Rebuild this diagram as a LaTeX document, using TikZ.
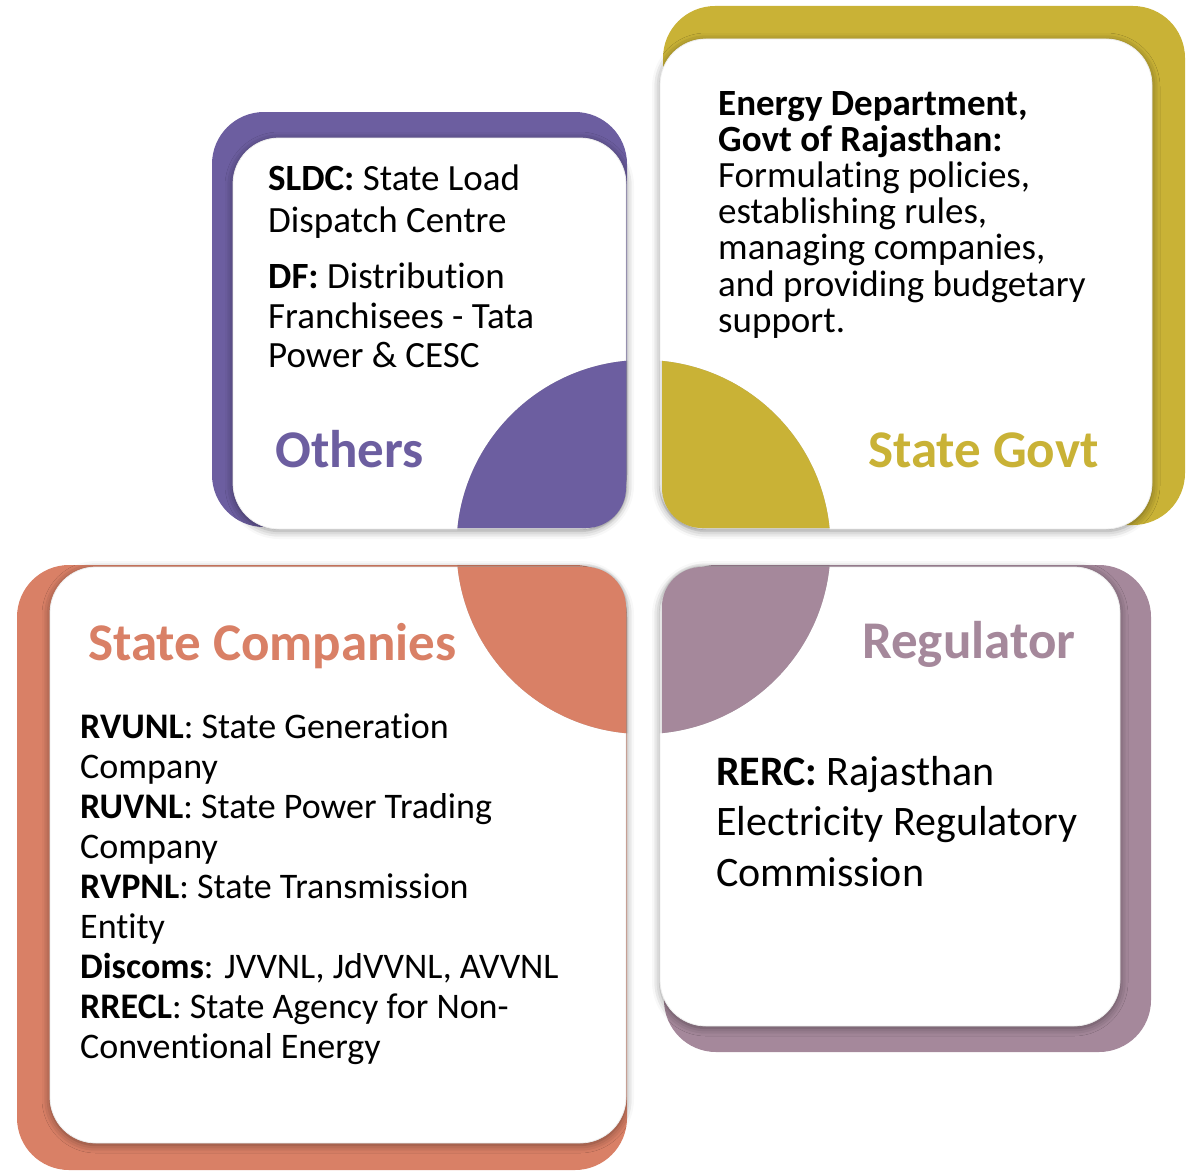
\documentclass[tikz,border=0pt]{standalone}
\usepackage{fontspec}
\setmainfont{Carlito}[Ligatures={NoCommon,NoContextual,NoRare}]
\usetikzlibrary{shadows.blur}
\definecolor{othersC}{HTML}{6C5EA0}
\definecolor{govtC}{HTML}{C9B236}
\definecolor{compC}{HTML}{D98066}
\definecolor{regC}{HTML}{A5889B}
\begin{document}
\begin{tikzpicture}[x=1pt,y=-1pt,
  backbox/.style={rounded corners=52pt},
  frontbox/.style={fill=white, draw=black!7, line width=0.8pt, rounded corners=46pt,
    blur shadow={shadow xshift=0pt, shadow yshift=-2pt, shadow blur radius=8pt, shadow opacity=45}},
  piece/.style={blur shadow={shadow xshift=0pt, shadow yshift=0pt, shadow blur radius=3pt, shadow opacity=30}},
  body/.style={anchor=base west, inner sep=0pt, font=\fontsize{37}{40}\selectfont},
  bodyS/.style={anchor=base west, inner sep=0pt, font=\fontsize{36}{40}\selectfont},
  bodyL/.style={anchor=base west, inner sep=0pt, font=\fontsize{42}{50}\selectfont},
  title/.style={anchor=base west, inner sep=0pt, font=\fontsize{53}{60}\selectfont\bfseries}]

\useasboundingbox (0,0) rectangle (1190,1172);

% coloured back plates
\fill[othersC, backbox] (212,112) rectangle (627,527);
\fill[govtC,   backbox] (663,6)   rectangle (1185,525);
\fill[compC,   backbox] (17,565)  rectangle (627,1170);
\fill[regC,    backbox] (664,565) rectangle (1151,1052);

% white front cards
\path[frontbox] (233,138) rectangle (626,529);
\path[frontbox] (660,39)  rectangle (1152,529);
\path[frontbox] (50,567)  rectangle (626,1143);
\path[frontbox] (660,567) rectangle (1120,1026);

% central disc cut into four quarters, inner corners rounded
\begin{scope}
  \clip (643.5,547) circle[radius=187pt];
  \fill[othersC, piece] (400,300) -- (626,300) -- (626,488)
      arc[start angle=0, end angle=-90, radius=40pt] -- (400,528) -- cycle;
  \fill[govtC, piece] (900,300) -- (662,300) -- (662,488)
      arc[start angle=180, end angle=270, radius=40pt] -- (900,528) -- cycle;
  \fill[compC, piece] (400,567) -- (586,567)
      arc[start angle=90, end angle=0, radius=40pt] -- (626,800) -- (400,800) -- cycle;
  \fill[regC, piece] (662,800) -- (662,607)
      arc[start angle=180, end angle=90, radius=40pt] -- (900,567) -- (900,800) -- cycle;
\end{scope}

% Others
\node[body] (sldcA) at (268,190) {\textbf{SLDC:} State Load};
\node[body] (sldcB) at (268,232) {Dispatch Centre};
\node[body] (dfA)   at (268,288) {\textbf{DF:} Distribution};
\node[body] (dfB)   at (268,328) {Franchisees - Tata};
\node[body] (dfC)   at (268,367) {Power \& CESC};
\node[title, text=othersC] (others) at (275,467) {Others};

% State Govt
\node[body] (edA) at (718,115) {\textbf{Energy Department,}};
\node[body] (edB) at (718,151) {\textbf{Govt of Rajasthan:}};
\node[body] (edC) at (718,187) {Formulating policies,};
\node[body] (edD) at (718,223) {establishing rules,};
\node[body] (edE) at (718,259) {managing companies,};
\node[body] (edF) at (718,296) {and providing budgetary};
\node[body] (edG) at (718,332) {support.};
\node[title, text=govtC] (govt) at (868,467) {State Govt};

% State Companies
\node[title, text=compC] (comp) at (88,660) {State Companies};
\node[bodyS] (scA) at (80,738)  {\textbf{RVUNL}: State Generation};
\node[bodyS] (scB) at (80,778)  {Company};
\node[bodyS] (scC) at (80,818)  {\textbf{RUVNL}: State Power Trading};
\node[bodyS] (scD) at (80,858)  {Company};
\node[bodyS] (scE) at (80,898)  {\textbf{RVPNL}: State Transmission};
\node[bodyS] (scF) at (80,938)  {Entity};
\node[bodyS] (scG) at (80,978)  {\textbf{Discoms}: JVVNL, JdVVNL, AVVNL};
\node[bodyS] (scH) at (80,1018) {\textbf{RRECL}: State Agency for Non-};
\node[bodyS] (scI) at (80,1058) {Conventional Energy};

% Regulator
\node[title, text=regC] (reg) at (862,658) {Regulator};
\node[bodyL] (rgA) at (716,785) {\textbf{RERC:} Rajasthan};
\node[bodyL] (rgB) at (716,835) {Electricity Regulatory};
\node[bodyL] (rgC) at (716,886) {Commission};

\end{tikzpicture}
\end{document}
